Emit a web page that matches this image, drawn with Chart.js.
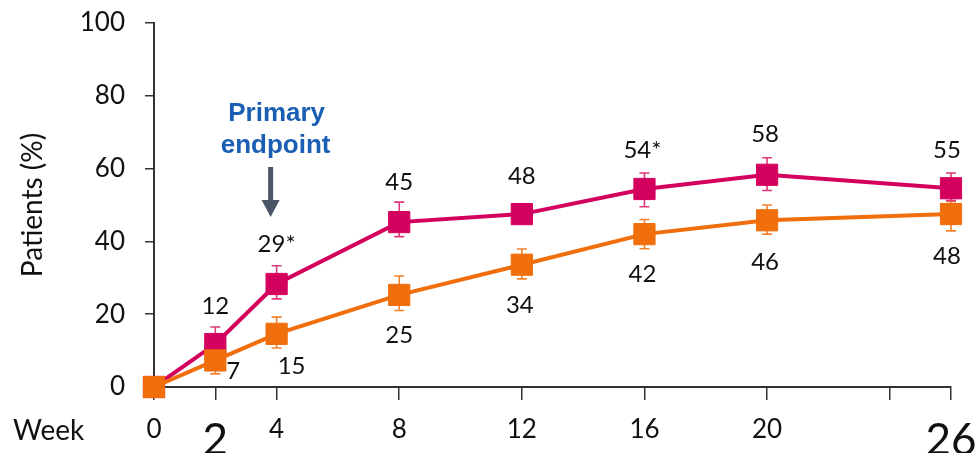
<!DOCTYPE html>
<html>
<head>
<meta charset="utf-8">
<script src="https://cdn.jsdelivr.net/npm/chart.js@4"></script>
<style>
  html, body { margin: 0; padding: 0; background: #fff; }
  #wrap { width: 977px; height: 453px; }
</style>
</head>
<body>
<div id="wrap"><canvas id="chart" width="977" height="453"></canvas></div>
<script>
// Weeks on the x axis
const weeks = [0, 2, 4, 8, 12, 16, 20, 26];
const xTicks = [0, 2, 4, 8, 12, 16, 20, 24, 26];
const bigTicks = [2, 26];
const yTicks = [0, 20, 40, 60, 80, 100];

// Magenta series (upper)
const magentaValues = [0, 11.8, 28.3, 45.3, 47.5, 54.4, 58.3, 54.6];
const magentaHigh = [0, 16.5, 33.3, 50.8, 47.5, 58.8, 63, 58.8];
const magentaLow = [0, 7, 24.2, 41.3, 47.5, 49.5, 54, 51.2];
const magentaLabels = ["", "12", "29*", "45", "48", "54*", "58", "55"];

// Orange series (lower)
const orangeValues = [0, 7.3, 14.6, 25.3, 33.6, 42, 45.8, 47.5];
const orangeHigh = [0, 10, 19.2, 30.5, 37.9, 46, 50, 51];
const orangeLow = [0, 3.6, 10.7, 21, 29.7, 38, 42, 42.9];
const orangeLabels = ["", "7", "15", "25", "34", "42", "46", "48"];

const MAGENTA = "#d4005e";
const ORANGE = "#f06e0c";
const FONT = "Lato, 'Open Sans', sans-serif";

// label offsets (pixels) from each marker
const magentaOffsets = [[0, 0], [0, -38], [0, -40], [0, -40], [0, -38], [-2, -39], [-2, -41], [-4, -38]];
const orangeOffsets = [[0, 0], [18, 11], [15, 32], [0, 40], [-2, 41], [-2, 40], [-2, 42], [-4, 42]];

function toPoints(values) {
  return weeks.map((w, i) => ({ x: w, y: values[i] }));
}

// error bars drawn under the markers
const errorBars = {
  id: "errorBars",
  beforeDatasetsDraw(chart) {
    const ctx = chart.ctx;
    const yScale = chart.scales.y;
    chart.data.datasets.forEach((ds, di) => {
      const meta = chart.getDatasetMeta(di);
      ctx.save();
      ctx.strokeStyle = ds.errColor;
      ctx.lineWidth = 1.6;
      meta.data.forEach((pt, i) => {
        const hi = yScale.getPixelForValue(ds.errHigh[i]);
        const lo = yScale.getPixelForValue(ds.errLow[i]);
        if (Math.abs(hi - lo) < 1) return;
        ctx.beginPath();
        ctx.moveTo(pt.x, hi); ctx.lineTo(pt.x, lo);
        ctx.moveTo(pt.x - 5, hi); ctx.lineTo(pt.x + 5, hi);
        ctx.moveTo(pt.x - 5, lo); ctx.lineTo(pt.x + 5, lo);
        ctx.stroke();
      });
      ctx.restore();
    });
  }
};

// value labels and the annotation
const valueLabels = {
  id: "valueLabels",
  afterDatasetsDraw(chart) {
    const ctx = chart.ctx;
    ctx.save();
    ctx.font = "24px " + FONT;
    ctx.fillStyle = "#111";
    ctx.textAlign = "center";
    ctx.textBaseline = "middle";
    chart.data.datasets.forEach((ds, di) => {
      const meta = chart.getDatasetMeta(di);
      meta.data.forEach((pt, i) => {
        const txt = ds.valueLabels[i];
        if (!txt) return;
        const off = ds.labelOffsets[i];
        ctx.fillText(txt, pt.x + off[0], pt.y + off[1]);
      });
    });

    // "Week" caption
    ctx.font = "28px " + FONT;
    ctx.textAlign = "left";
    ctx.fillText("Week", 13, 431);

    // Primary endpoint note + arrow above week 4
    const x4 = chart.scales.x.getPixelForValue(4);
    ctx.fillStyle = "#1a5fb4";
    ctx.font = "bold 26px 'Liberation Sans', Arial, sans-serif";
    ctx.textAlign = "center";
    ctx.fillText("Primary", x4, 114);
    ctx.fillText("endpoint", x4 - 1, 146);

    ctx.strokeStyle = "#4a5568";
    ctx.fillStyle = "#4a5568";
    ctx.lineWidth = 5;
    ctx.beginPath();
    ctx.moveTo(x4 - 6, 167);
    ctx.lineTo(x4 - 6, 201);
    ctx.stroke();
    ctx.beginPath();
    ctx.moveTo(x4 - 15, 200);
    ctx.lineTo(x4 + 3, 200);
    ctx.lineTo(x4 - 6, 217);
    ctx.closePath();
    ctx.fill();
    ctx.restore();
  }
};

const ctx = document.getElementById("chart").getContext("2d");
new Chart(ctx, {
  type: "line",
  data: {
    datasets: [
      {
        data: toPoints(orangeValues),
        borderColor: ORANGE,
        backgroundColor: ORANGE,
        pointBackgroundColor: ORANGE,
        pointBorderColor: ORANGE,
        borderWidth: 4,
        pointStyle: "rect",
        pointRadius: 15,
        pointBorderWidth: 1,
        clip: false,
        errHigh: orangeHigh,
        errLow: orangeLow,
        errColor: "#f3822f",
        valueLabels: orangeLabels,
        labelOffsets: orangeOffsets
      },
      {
        data: toPoints(magentaValues),
        borderColor: MAGENTA,
        backgroundColor: MAGENTA,
        pointBackgroundColor: MAGENTA,
        pointBorderColor: MAGENTA,
        borderWidth: 4,
        pointStyle: "rect",
        pointRadius: 15,
        pointBorderWidth: 1,
        clip: false,
        errHigh: magentaHigh,
        errLow: magentaLow,
        errColor: "#dc3a7c",
        valueLabels: magentaLabels,
        labelOffsets: magentaOffsets
      }
    ]
  },
  options: {
    responsive: false,
    animation: false,
    events: [],
    layout: { padding: { top: 23, right: 26, left: 0, bottom: 0 } },
    plugins: { legend: { display: false }, tooltip: { enabled: false } },
    scales: {
      x: {
        type: "linear",
        min: 0,
        max: 26,
        afterFit(scale) {
          scale.height = 66;
          scale.paddingLeft = 0;
          scale.paddingRight = 0;
        },
        afterBuildTicks(scale) { scale.ticks = xTicks.map(v => ({ value: v })); },
        border: { color: "#333", width: 2 },
        grid: { drawOnChartArea: false, drawTicks: true, tickLength: 13, color: "#333", lineWidth: 1.5 },
        ticks: {
          autoSkip: false,
          maxRotation: 0,
          padding: 14,
          color: "#111",
          font: c => ({ family: FONT, size: bigTicks.includes(c.tick && c.tick.value) ? 44 : 26 }),
          callback: v => (v === 24 ? "" : String(v))
        }
      },
      y: {
        min: 0,
        max: 100,
        afterFit(scale) {
          scale.width = 154;
          scale.paddingTop = 0;
          scale.paddingBottom = 0;
        },
        afterBuildTicks(scale) { scale.ticks = yTicks.map(v => ({ value: v })); },
        border: { color: "#333", width: 2 },
        grid: { drawOnChartArea: false, drawTicks: true, tickLength: 9, color: "#333", lineWidth: 1.5 },
        ticks: { padding: 20, color: "#111", font: { family: FONT, size: 26 } },
        title: {
          display: true,
          text: "Patients (%)",
          color: "#111",
          font: { family: FONT, size: 28 },
          padding: { top: 16, bottom: 0 }
        }
      }
    }
  },
  plugins: [errorBars, valueLabels]
});
</script>
</body>
</html>
